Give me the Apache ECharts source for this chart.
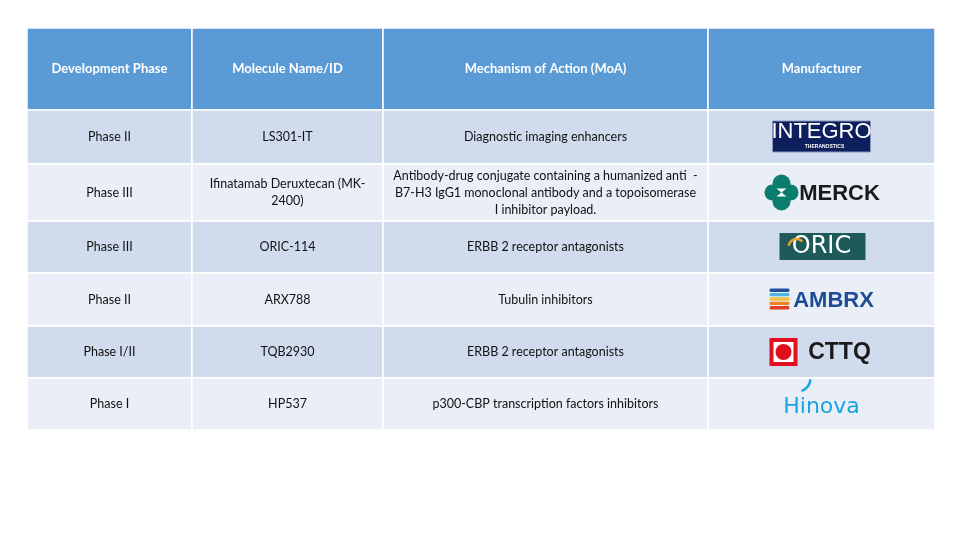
<!DOCTYPE html>
<html><head><meta charset="utf-8">
<script src="https://cdn.jsdelivr.net/npm/echarts@6/dist/echarts.min.js"></script>
<style>html,body{margin:0;background:#fff}#c{width:975px;height:548px}</style></head>
<body><div id="c"></div>
<script>
var headers = ['Development Phase','Molecule Name/ID','Mechanism of Action (MoA)','Manufacturer'];
var phases = ['Phase II','Phase III','Phase III','Phase II','Phase I/II','Phase I'];
var molecules = ['LS301-IT','Ifinatamab Deruxtecan (MK-\n2400)','ORIC-114','ARX788','TQB2930','HP537'];
var moas = ['Diagnostic imaging enhancers','Antibody-drug conjugate containing a humanized anti  -\nB7-H3 IgG1 monoclonal antibody and a topoisomerase\nI inhibitor payload.','ERBB 2 receptor antagonists','Tubulin inhibitors','ERBB 2 receptor antagonists','p300-CBP transcription factors inhibitors'];
var manufacturers = ['INTEGRO','MERCK','ORIC','AMBRX','CTTQ','Hinova'];

// layout (pixel units in the hidden axes)
var colW = [165, 191, 325, 227];
var rowH = [82, 54, 57, 52, 53, 52, 52];
var colX = [0]; colW.forEach(function(w){colX.push(colX[colX.length-1]+w);});
var rowY = [0]; rowH.forEach(function(h){rowY.push(rowY[rowY.length-1]+h);});
var F = 'Lato, "Open Sans", sans-serif';

var cells = [];
for (var r = 0; r < 7; r++) for (var c = 0; c < 4; c++) cells.push([c, r]);

function cellText(r, c) {
  if (r === 0) return headers[c];
  var i = r - 1;
  return [phases[i], molecules[i], moas[i], ''][c];
}

function logo(name, cx, cy) {
  var ch = [];
  if (name === 'INTEGRO') {
    ch.push({type:'rect', shape:{x:cx-49,y:cy-16,width:98,height:31}, style:{fill:'#0d1f5c', stroke:'#8896b8', lineWidth:1}});
    ch.push({type:'text', style:{text:'INTEGRO', x:cx, y:cy-5, align:'center', verticalAlign:'middle', fill:'#fff', font:'22px "Liberation Sans Narrow", "Liberation Sans", sans-serif'}});
    ch.push({type:'text', style:{text:'THERANOSTICS', x:cx+3, y:cy+10, align:'center', verticalAlign:'middle', fill:'#fff', font:'bold 5px sans-serif'}});
  } else if (name === 'MERCK') {
    var g = '#0a7d6e', lx = cx - 40;
    ch.push({type:'circle', shape:{cx:lx, cy:cy-9, r:9}, style:{fill:g}});
    ch.push({type:'circle', shape:{cx:lx, cy:cy+9, r:9}, style:{fill:g}});
    ch.push({type:'circle', shape:{cx:lx-9, cy:cy, r:8}, style:{fill:g}});
    ch.push({type:'circle', shape:{cx:lx+9, cy:cy, r:8}, style:{fill:g}});
    ch.push({type:'polygon', shape:{points:[[lx-5,cy-4],[lx+5,cy-4],[lx,cy]]}, style:{fill:'#fff'}});
    ch.push({type:'polygon', shape:{points:[[lx-5,cy+4],[lx+5,cy+4],[lx,cy]]}, style:{fill:'#fff'}});
    ch.push({type:'text', style:{text:'MERCK', x:cx+18, y:cy+1, align:'center', verticalAlign:'middle', fill:'#1a1a1a', font:'bold 22px "Liberation Sans", sans-serif'}});
  } else if (name === 'ORIC') {
    ch.push({type:'rect', shape:{x:cx-42,y:cy-14,width:86,height:27}, style:{fill:'#1e5a5a'}});
    ch.push({type:'text', style:{text:'ORIC', x:cx, y:cy, align:'center', verticalAlign:'middle', fill:'#fff', font:'24px "DejaVu Sans", sans-serif'}});
    ch.push({type:'arc', shape:{cx:cx-25, cy:cy, r:8, startAngle:-Math.PI*0.95, endAngle:-Math.PI*0.25}, style:{stroke:'#f0a030', lineWidth:2.5, fill:'none'}});
  } else if (name === 'AMBRX') {
    var sx = cx - 42, cols = ['#1e4f9c','#4fb3e8','#f0c040','#f08020','#e04020'];
    for (var k = 0; k < 5; k++) ch.push({type:'rect', shape:{x:sx-10, y:cy-11+k*4.4, width:20, height:3.4, r:1.5}, style:{fill:cols[k]}});
    ch.push({type:'text', style:{text:'AMBRX', x:cx+12, y:cy+1, align:'center', verticalAlign:'middle', fill:'#1f4c96', font:'bold 22px "Liberation Sans", sans-serif'}});
  } else if (name === 'CTTQ') {
    var qx = cx - 38;
    ch.push({type:'rect', shape:{x:qx-14,y:cy-14,width:28,height:28}, style:{fill:'#e0101a'}});
    ch.push({type:'rect', shape:{x:qx-10,y:cy-10,width:20,height:20}, style:{fill:'#fff'}});
    ch.push({type:'circle', shape:{cx:qx, cy:cy, r:8}, style:{fill:'#e0101a'}});
    ch.push({type:'text', style:{text:'CTTQ', x:cx+18, y:cy+1, align:'center', verticalAlign:'middle', fill:'#1a1a1a', font:'bold 23px "Liberation Sans", sans-serif'}});
  } else if (name === 'Hinova') {
    ch.push({type:'text', style:{text:'Hinova', x:cx, y:cy+3, align:'center', verticalAlign:'middle', fill:'#1aa3e0', font:'22px "DejaVu Sans", sans-serif'}});
    ch.push({type:'arc', shape:{cx:cx-25, cy:cy-26, r:14, startAngle:0.1, endAngle:1.2}, style:{stroke:'#1aa3e0', lineWidth:2.5, fill:'none'}});
  }
  return ch;
}

var chart = echarts.init(document.getElementById('c'));
chart.setOption({
  animation:false,
  grid:{left:27, right:40, top:28, bottom:118},
  xAxis:{type:'value', min:0, max:colX[4], show:false},
  yAxis:{type:'value', min:0, max:rowY[7], inverse:true, show:false},
  series:[{
    type:'custom',
    data:cells,
    renderItem:function(params, api){
      var c = api.value(0), r = api.value(1);
      var p0 = api.coord([colX[c], rowY[r]]), p1 = api.coord([colX[c+1], rowY[r+1]]);
      var fill = r === 0 ? '#5b9bd5' : (r % 2 === 1 ? '#d0dcee' : '#e9eef7');
      var cx = (p0[0]+p1[0])/2, cy = (p0[1]+p1[1])/2;
      var ch = [{type:'rect', shape:{x:p0[0],y:p0[1],width:p1[0]-p0[0],height:p1[1]-p0[1]}, style:{fill:fill, stroke:'#fff', lineWidth:1.5}}];
      if (r > 0 && c === 3) ch = ch.concat(logo(manufacturers[r-1], cx, cy));
      else ch.push({type:'text', style:{text:cellText(r,c), x:cx, y:cy, align:'center', verticalAlign:'middle',
        fill: r === 0 ? '#fff' : '#111', font:(r===0?'bold 13px ':'12.5px ')+F, lineHeight:17}});
      return {type:'group', children:ch};
    }
  }]
});
</script></body></html>
